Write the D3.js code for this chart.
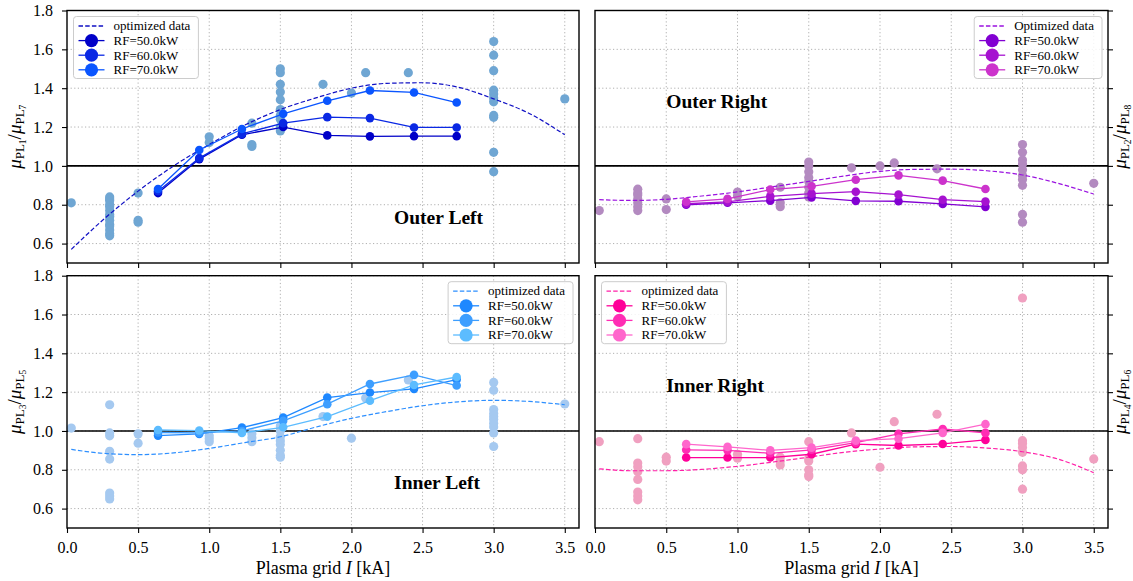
<!DOCTYPE html>
<html>
<head>
<meta charset="utf-8">
<script src="https://cdn.jsdelivr.net/npm/d3@7"></script>
<style>
  body { margin: 0; background: #fff; }
  text { font-family: "Liberation Serif", "Times New Roman", serif; fill: #000; }
</style>
</head>
<body>
<div id="chart"></div>
<script>
var svgWidth = 1133;
var svgHeight = 581;

var xTicks = [0.0, 0.5, 1.0, 1.5, 2.0, 2.5, 3.0, 3.5];
var yTicks = [0.6, 0.8, 1.0, 1.2, 1.4, 1.6, 1.8];
var rfLabels = ["RF=50.0kW", "RF=60.0kW", "RF=70.0kW"];
var rfCurrent = [0.64, 0.93, 1.23, 1.52, 1.83, 2.13, 2.44, 2.74];
var optCurrent = [0.03, 0.25, 0.5, 0.75, 1.0, 1.25, 1.5, 1.75, 2.0, 2.25, 2.5, 2.75, 3.0, 3.25, 3.5];

// Outer Left
var outerLeftRF50 = [0.86, 1.035, 1.16, 1.20, 1.157, 1.152, 1.153, 1.153];
var outerLeftRF60 = [0.87, 1.04, 1.165, 1.22, 1.251, 1.246, 1.198, 1.198];
var outerLeftRF70 = [0.881, 1.082, 1.19, 1.268, 1.335, 1.388, 1.378, 1.326];
var outerLeftOpt = [0.57, 0.72, 0.87, 1.0, 1.11, 1.21, 1.29, 1.35, 1.40, 1.425, 1.428, 1.405, 1.345, 1.27, 1.16];
var outerLeftScatter = [
  [0.03, [0.81]],
  [0.3, [0.64, 0.65, 0.67, 0.69, 0.70, 0.72, 0.74, 0.75, 0.77, 0.79, 0.80, 0.82, 0.83, 0.84]],
  [0.5, [0.86, 0.72, 0.71]],
  [1.0, [1.15, 1.12]],
  [1.3, [1.22, 1.11, 1.10]],
  [1.5, [1.50, 1.48, 1.42, 1.38, 1.34, 1.29, 1.26, 1.24, 1.20, 1.18]],
  [1.8, [1.42]], [2.0, [1.375]], [2.1, [1.48]], [2.4, [1.48]],
  [3.0, [1.64, 1.57, 1.49, 1.39, 1.37, 1.35, 1.33, 1.26, 1.25, 1.07, 0.97]],
  [3.5, [1.345]]
];

// Outer Right
var outerRightRF50 = [0.80, 0.81, 0.821, 0.838, 0.82, 0.818, 0.804, 0.789];
var outerRightRF60 = [0.805, 0.815, 0.843, 0.857, 0.867, 0.852, 0.826, 0.816];
var outerRightRF70 = [0.815, 0.83, 0.878, 0.895, 0.929, 0.951, 0.924, 0.881];
var outerRightOpt = [0.826, 0.822, 0.828, 0.845, 0.866, 0.893, 0.92, 0.948, 0.972, 0.982, 0.983, 0.975, 0.953, 0.91, 0.855];
var outerRightScatter = [
  [0.03, [0.77]],
  [0.3, [0.88, 0.86, 0.85, 0.83, 0.81, 0.79, 0.77]],
  [0.5, [0.83, 0.775]],
  [1.0, [0.865, 0.845]],
  [1.3, [0.89, 0.81, 0.79]],
  [1.5, [1.02, 1.00, 0.97, 0.94, 0.92, 0.89, 0.86, 0.84]],
  [1.8, [0.99]], [2.0, [1.0]], [2.1, [1.015]], [2.4, [0.985]],
  [3.0, [1.11, 1.07, 1.03, 1.01, 0.98, 0.95, 0.93, 0.90, 0.75, 0.71]],
  [3.5, [0.91]]
];

// Inner Left
var innerLeftRF50 = [0.976, 0.985, 1.017, 1.069, 1.172, 1.198, 1.217, 1.265];
var innerLeftRF60 = [0.992, 0.99, 1.0, 1.052, 1.138, 1.242, 1.289, 1.234];
var innerLeftRF70 = [1.005, 1.002, 0.99, 1.019, 1.074, 1.156, 1.237, 1.278];
var innerLeftOpt = [0.905, 0.885, 0.878, 0.887, 0.91, 0.94, 0.97, 1.02, 1.065, 1.10, 1.13, 1.15, 1.158, 1.152, 1.135];
var innerLeftScatter = [
  [0.03, [1.015]],
  [0.3, [1.135, 0.99, 0.975, 0.895, 0.855, 0.68, 0.665, 0.65]],
  [0.5, [0.985, 0.937]],
  [1.0, [0.975, 0.96, 0.945]],
  [1.3, [0.985, 0.965, 0.945]],
  [1.5, [1.025, 1.0, 0.97, 0.95, 0.93, 0.90, 0.875, 0.865]],
  [1.8, [1.074]], [2.0, [0.963]], [2.1, [1.17]], [2.4, [1.263]],
  [3.0, [1.25, 1.21, 1.11, 1.09, 1.075, 1.06, 1.04, 1.02, 0.99, 0.92]],
  [3.5, [1.139]]
];

// Inner Right
var innerRightRF50 = [0.863, 0.863, 0.863, 0.88, 0.932, 0.925, 0.933, 0.954];
var innerRightRF60 = [0.903, 0.90, 0.885, 0.903, 0.94, 0.985, 1.01, 0.99];
var innerRightRF70 = [0.932, 0.918, 0.90, 0.914, 0.95, 0.96, 0.99, 1.035];
var innerRightOpt = [0.805, 0.795, 0.795, 0.802, 0.818, 0.84, 0.865, 0.89, 0.907, 0.918, 0.92, 0.912, 0.893, 0.855, 0.785];
var innerRightScatter = [
  [0.03, [0.945]],
  [0.3, [0.96, 0.835, 0.815, 0.79, 0.75, 0.685, 0.665, 0.645]],
  [0.5, [0.865, 0.845]],
  [1.0, [0.88, 0.86]],
  [1.3, [0.865, 0.845, 0.825]],
  [1.5, [0.945, 0.86, 0.845, 0.80, 0.775, 0.765]],
  [1.8, [0.99]], [2.0, [0.813]], [2.1, [1.048]], [2.4, [1.086]],
  [3.0, [1.685, 0.95, 0.935, 0.915, 0.89, 0.82, 0.80, 0.70]],
  [3.5, [0.856]]
];

var panels = [
  { title: "Outer Left", col: 0, row: 0, rf: [outerLeftRF50, outerLeftRF60, outerLeftRF70],
    opt: outerLeftOpt, scatter: outerLeftScatter, optLabel: "optimized data", sub: ["1", "7"],
    rfColors: ["#0000c8", "#0a28e4", "#0a55ff"], scatterColor: "#6fa6d3", optColor: "#1010c4",
    legend: "left", titleAt: [2.3, 0.7] },
  { title: "Outer Right", col: 1, row: 0, rf: [outerRightRF50, outerRightRF60, outerRightRF70],
    opt: outerRightOpt, scatter: outerRightScatter, optLabel: "Optimized data", sub: ["2", "8"],
    rfColors: ["#8200d2", "#a612d0", "#cc33cc"], scatterColor: "#b38ac0", optColor: "#9a12e0",
    legend: "right", titleAt: [0.5, 1.3] },
  { title: "Inner Left", col: 0, row: 1, rf: [innerLeftRF50, innerLeftRF60, innerLeftRF70],
    opt: innerLeftOpt, scatter: innerLeftScatter, optLabel: "optimized data", sub: ["3", "5"],
    rfColors: ["#1e88ff", "#3d9eff", "#5cbcff"], scatterColor: "#a5c9f0", optColor: "#2d8fff",
    legend: "right", titleAt: [2.3, 0.7] },
  { title: "Inner Right", col: 1, row: 1, rf: [innerRightRF50, innerRightRF60, innerRightRF70],
    opt: innerRightOpt, scatter: innerRightScatter, optLabel: "optimized data", sub: ["4", "6"],
    rfColors: ["#ff0099", "#ff2db4", "#ff66cc"], scatterColor: "#f0a0c0", optColor: "#ff20a8",
    legend: "left", titleAt: [0.5, 1.2] }
];

var colX = [[67, 579], [595, 1108]];
var rowY = [[10.5, 263], [275.7, 528]];

var svg = d3.select("#chart")
  .append("svg")
  .attr("width", svgWidth)
  .attr("height", svgHeight);

panels.forEach(function(p) {
  var x0 = colX[p.col][0], x1 = colX[p.col][1];
  var y0 = rowY[p.row][0], y1 = rowY[p.row][1];
  var w = x1 - x0, h = y1 - y0;

  var x = d3.scaleLinear().domain([0, 3.6]).range([0, w]);
  var y = d3.scaleLinear().domain([0.5, 1.8]).range([h, 0]);

  var g = svg.append("g").attr("transform", `translate(${x0}, ${y0})`);

  // grid
  g.append("g").selectAll("line.gx").data(xTicks.slice(1)).enter().append("line")
    .attr("x1", d => x(d)).attr("x2", d => x(d)).attr("y1", 0).attr("y2", h)
    .attr("stroke", "#b0b0b0").attr("stroke-width", 1).attr("stroke-dasharray", "1.2,2.4");
  g.append("g").selectAll("line.gy").data(yTicks).enter().append("line")
    .attr("x1", 0).attr("x2", w).attr("y1", d => y(d)).attr("y2", d => y(d))
    .attr("stroke", "#b0b0b0").attr("stroke-width", 1).attr("stroke-dasharray", "1.2,2.4");

  // reference line at 1.0
  g.append("line").attr("x1", 0).attr("x2", w).attr("y1", y(1)).attr("y2", y(1))
    .attr("stroke", "#000").attr("stroke-width", 1.6);

  // measurement scatter
  var pts = [];
  p.scatter.forEach(function(s) { s[1].forEach(function(v) { pts.push([s[0], v]); }); });
  g.append("g").selectAll("circle").data(pts).enter().append("circle")
    .attr("cx", d => x(d[0])).attr("cy", d => y(d[1])).attr("r", 4.6)
    .attr("fill", p.scatterColor);

  // optimized curve
  var optLine = d3.line().x((d, i) => x(optCurrent[i])).y(d => y(d)).curve(d3.curveMonotoneX);
  g.append("path").datum(p.opt).attr("d", optLine)
    .attr("fill", "none").attr("stroke", p.optColor).attr("stroke-width", 1.2)
    .attr("stroke-dasharray", "4.5,2.2");

  // RF series
  var rfLine = d3.line().x((d, i) => x(rfCurrent[i])).y(d => y(d));
  p.rf.forEach(function(series, k) {
    g.append("path").datum(series).attr("d", rfLine)
      .attr("fill", "none").attr("stroke", p.rfColors[k]).attr("stroke-width", 1.3);
    g.append("g").selectAll("circle").data(series).enter().append("circle")
      .attr("cx", (d, i) => x(rfCurrent[i])).attr("cy", d => y(d)).attr("r", 4.3)
      .attr("fill", p.rfColors[k]);
  });

  // frame
  g.append("rect").attr("width", w).attr("height", h)
    .attr("fill", "none").attr("stroke", "#000").attr("stroke-width", 1.4);

  // x ticks
  var xAxis = d3.axisBottom(x).tickValues(xTicks).tickSize(5).tickPadding(9)
    .tickFormat(p.row === 1 ? d3.format(".1f") : "");
  var gx = g.append("g").attr("transform", `translate(0, ${h})`).call(xAxis);
  gx.select(".domain").remove();
  gx.selectAll("line").attr("stroke", "#000").attr("stroke-width", 1.1);
  gx.selectAll("text").style("font-family", "Liberation Serif").style("font-size", "16px").attr("fill", "#000");

  // y ticks
  var yAxis = (p.col === 0 ? d3.axisLeft(y) : d3.axisRight(y)).tickValues(yTicks).tickSize(5).tickPadding(9)
    .tickFormat(p.col === 0 ? d3.format(".1f") : "");
  var gy = g.append("g").attr("transform", `translate(${p.col === 0 ? 0 : w}, 0)`).call(yAxis);
  gy.select(".domain").remove();
  gy.selectAll("line").attr("stroke", "#000").attr("stroke-width", 1.1);
  gy.selectAll("text").style("font-family", "Liberation Serif").style("font-size", "16px").attr("fill", "#000");

  // panel title
  g.append("text").attr("x", x(p.titleAt[0])).attr("y", y(p.titleAt[1]))
    .style("font-size", "19.5px").style("font-weight", "bold").text(p.title);

  // y label
  var lx = p.col === 0 ? 21 : 1126;
  var yl = svg.append("text")
    .attr("transform", `translate(${lx}, ${y0 + h / 2}) rotate(-90)`)
    .attr("text-anchor", "middle").style("font-size", "19px");
  yl.append("tspan").style("font-style", "italic").text("μ");
  yl.append("tspan").attr("dy", 3).style("font-size", "13px").text("PL");
  yl.append("tspan").attr("dy", 2).style("font-size", "9.5px").text(p.sub[0]);
  yl.append("tspan").attr("dy", -5).text("/");
  yl.append("tspan").style("font-style", "italic").text("μ");
  yl.append("tspan").attr("dy", 3).style("font-size", "13px").text("PL");
  yl.append("tspan").attr("dy", 2).style("font-size", "9.5px").text(p.sub[1]);

  // x label
  if (p.row === 1) {
    var xl = svg.append("text").attr("x", x0 + w / 2).attr("y", 574)
      .attr("text-anchor", "middle").style("font-size", "18px");
    xl.append("tspan").text("Plasma grid ");
    xl.append("tspan").style("font-style", "italic").text("I");
    xl.append("tspan").text(" [kA]");
  }

  // legend
  var lg = g.append("g");
  var box = lg.append("rect").attr("rx", 3).attr("fill", "#fff").attr("fill-opacity", 0.85)
    .attr("stroke", "#cccccc").attr("stroke-width", 1);
  var items = [{ label: p.optLabel, color: p.optColor, dashed: true }];
  rfLabels.forEach(function(l, k) { items.push({ label: l, color: p.rfColors[k], dashed: false }); });
  var rowH = 14.6, maxW = 0;
  items.forEach(function(it, k) {
    var cy = 9.5 + k * rowH;
    lg.append("line").attr("x1", 5).attr("x2", 31).attr("y1", cy).attr("y2", cy)
      .attr("stroke", it.color).attr("stroke-width", 1.3)
      .attr("stroke-dasharray", it.dashed ? "4.5,2.2" : null);
    if (!it.dashed) {
      lg.append("circle").attr("cx", 18).attr("cy", cy).attr("r", 6.6).attr("fill", it.color);
    }
    var t = lg.append("text").attr("x", 40).attr("y", cy + 4.3).style("font-size", "13px").text(it.label);
    maxW = Math.max(maxW, t.node().getComputedTextLength());
  });
  var bw = 40 + maxW + 8, bh = 62;
  box.attr("width", bw).attr("height", bh);
  var lx0 = p.legend === "left" ? 6.5 : w - 6 - bw;
  lg.attr("transform", `translate(${lx0}, 6)`);
});
</script>
</body>
</html>
